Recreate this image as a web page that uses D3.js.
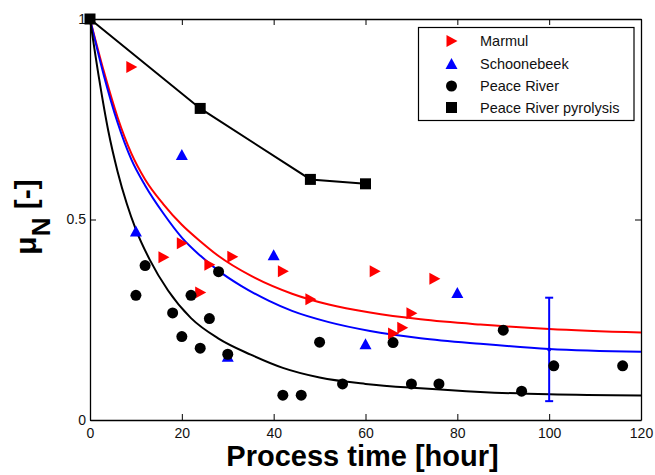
<!DOCTYPE html>
<html>
<head>
<meta charset="utf-8">
<script src="https://cdn.jsdelivr.net/npm/d3@7/dist/d3.min.js"></script>
<style>
  html, body { margin: 0; padding: 0; background: #fff; }
  svg { display: block; font-family: Arial, "Liberation Sans", sans-serif; }
</style>
</head>
<body>
<svg id="chart" width="655" height="475"></svg>
<script>
// Measured data: [time (h), mu_N]
const marmul = [[9, 0.88], [16, 0.406], [20, 0.441], [24, 0.318], [26, 0.387], [31, 0.407],
  [42, 0.371], [48, 0.301], [62, 0.371], [66, 0.216], [68, 0.230], [70, 0.266], [75, 0.352]];
const schoonebeek = [[10, 0.47], [20, 0.661], [30, 0.158], [40, 0.411], [60, 0.189], [80, 0.317]];
const peaceRiver = [[10, 0.311], [12, 0.385], [18, 0.267], [20, 0.208], [22, 0.311], [24, 0.179],
  [26, 0.253], [28, 0.370], [30, 0.164], [42, 0.062], [46, 0.062], [50, 0.194], [55, 0.090],
  [66, 0.193], [70, 0.090], [76, 0.090], [90, 0.224], [94, 0.072], [101, 0.135], [116, 0.135]];
const pyrolysis = [[0, 1], [24, 0.777], [48, 0.600], [60, 0.589]];

// Model curves
const modelMarmul = [[0, 1], [3, 0.87], [6, 0.755], [9, 0.665], [12, 0.6], [16, 0.538], [20, 0.487],
  [24, 0.446], [28, 0.409], [35, 0.36], [44, 0.315], [52, 0.288], [61, 0.268], [72, 0.251],
  [85, 0.238], [100, 0.227], [120, 0.218]];
const modelSchoonebeek = [[0, 1], [3, 0.86], [6, 0.742], [9, 0.65], [12, 0.585], [16, 0.515],
  [20, 0.455], [24, 0.41], [28, 0.372], [33, 0.334], [39, 0.297], [44, 0.272], [52, 0.244],
  [61, 0.222], [72, 0.204], [85, 0.19], [100, 0.177], [120, 0.17]];
const modelPeaceRiver = [[0, 1], [2, 0.85], [4, 0.72], [6, 0.62], [8, 0.54], [10, 0.475], [13, 0.4],
  [17, 0.323], [22, 0.254], [28, 0.203], [35, 0.163], [42, 0.13], [50, 0.106], [60, 0.09],
  [72, 0.079], [85, 0.07], [100, 0.064], [120, 0.061]];

// Error bar on the Schoonebeek model: [time, centre, low, high]
const errorBar = [100, 0.176, 0.047, 0.305];

const xTicks = [0, 20, 40, 60, 80, 100, 120];
const yTicks = [0, 0.5, 1];
const yTickLabels = ["0", "0.5", "1"];
const legendLabels = ["Marmul", "Schoonebeek", "Peace River", "Peace River pyrolysis"];

const RED = "#ff0000", BLUE = "#0000ff", BLACK = "#000000";

const svg = d3.select("#chart");
const margin = { left: 90, right: 14, top: 19, bottom: 55 };
const W = 655, H = 475;
const x = d3.scaleLinear().domain([0, 120]).range([margin.left, W - margin.right]);
const y = d3.scaleLinear().domain([0, 1]).range([H - margin.bottom, margin.top]);

// Axes (box with inward ticks)
const styleAxis = g => {
  g.selectAll("path.domain").attr("stroke", BLACK).attr("stroke-width", 1.3);
  g.selectAll(".tick line").attr("stroke", BLACK).attr("stroke-width", 1);
  g.selectAll(".tick text").attr("fill", "#111").attr("font-size", 14);
};
svg.append("g").attr("transform", `translate(0,${y(0)})`)
  .call(d3.axisBottom(x).tickValues(xTicks).tickFormat(d3.format("d")).tickSizeInner(-6).tickSizeOuter(0).tickPadding(8))
  .call(styleAxis);
svg.append("g").attr("transform", `translate(0,${y(1)})`)
  .call(d3.axisTop(x).tickValues(xTicks).tickFormat("").tickSizeInner(-6).tickSizeOuter(0))
  .call(styleAxis);
svg.append("g").attr("transform", `translate(${x(0)},0)`)
  .call(d3.axisLeft(y).tickValues(yTicks).tickFormat((d, i) => yTickLabels[i]).tickSizeInner(-6).tickSizeOuter(0).tickPadding(4))
  .call(styleAxis);
svg.append("g").attr("transform", `translate(${x(120)},0)`)
  .call(d3.axisRight(y).tickValues(yTicks).tickFormat("").tickSizeInner(-6).tickSizeOuter(0))
  .call(styleAxis);

// Model lines
const line = d3.line().x(d => x(d[0])).y(d => y(d[1])).curve(d3.curveMonotoneX);
[[modelMarmul, RED], [modelSchoonebeek, BLUE], [modelPeaceRiver, BLACK]].forEach(([data, c]) => {
  svg.append("path").datum(data).attr("d", line)
    .attr("fill", "none").attr("stroke", c).attr("stroke-width", 2);
});

// Pyrolysis line
svg.append("path").datum(pyrolysis).attr("d", d3.line().x(d => x(d[0])).y(d => y(d[1])))
  .attr("fill", "none").attr("stroke", BLACK).attr("stroke-width", 2);

// Error bar
const [ex, ec, elo, ehi] = errorBar;
const eb = svg.append("g").attr("stroke", BLUE).attr("stroke-width", 2);
eb.append("line").attr("x1", x(ex)).attr("x2", x(ex)).attr("y1", y(elo)).attr("y2", y(ehi));
eb.append("line").attr("x1", x(ex) - 4).attr("x2", x(ex) + 4).attr("y1", y(elo)).attr("y2", y(elo));
eb.append("line").attr("x1", x(ex) - 4).attr("x2", x(ex) + 4).attr("y1", y(ehi)).attr("y2", y(ehi));
svg.append("circle").attr("cx", x(ex)).attr("cy", y(ec)).attr("r", 2).attr("fill", BLUE);

// Marker shapes
const rightTri = "M-5,-6L6,0L-5,6Z";
const upTri = "M-6,5L0,-6L6,5Z";
const drawMarker = (g, kind, color) => {
  if (kind === "right") g.append("path").attr("d", rightTri).attr("fill", color);
  else if (kind === "up") g.append("path").attr("d", upTri).attr("fill", color);
  else if (kind === "circle") g.append("circle").attr("r", 5.5).attr("fill", color);
  else g.append("rect").attr("x", -5.5).attr("y", -5.5).attr("width", 11).attr("height", 11).attr("fill", color);
};
const series = [
  [marmul, "right", RED],
  [schoonebeek, "up", BLUE],
  [peaceRiver, "circle", BLACK],
  [pyrolysis, "square", BLACK]
];
series.forEach(([data, kind, color]) => {
  svg.append("g").selectAll("g").data(data).join("g")
    .attr("transform", d => `translate(${x(d[0])},${y(d[1])})`)
    .each(function () { drawMarker(d3.select(this), kind, color); });
});

// Legend
const lg = svg.append("g").attr("transform", "translate(418.5,27.5)");
lg.append("rect").attr("width", 215.5).attr("height", 93).attr("fill", "#fff")
  .attr("stroke", BLACK).attr("stroke-width", 1.2);
const rowY = [13.5, 36.5, 58.5, 80];
series.forEach(([, kind, color], i) => {
  const r = lg.append("g").attr("transform", `translate(33,${rowY[i]})`);
  drawMarker(r, kind, color);
  lg.append("text").attr("x", 61.5).attr("y", rowY[i]).attr("dy", "0.35em")
    .attr("font-size", 14.5).attr("fill", "#111").text(legendLabels[i]);
});

// Axis titles
svg.append("text").attr("x", 362.5).attr("y", 466).attr("text-anchor", "middle")
  .attr("font-size", 29).attr("font-weight", "bold").attr("fill", BLACK).text("Process time [hour]");
const yt = svg.append("text").attr("transform", "translate(36,217) rotate(-90)")
  .attr("text-anchor", "middle").attr("font-size", 30).attr("font-weight", "bold").attr("fill", BLACK);
yt.append("tspan").text("\u03bc");
yt.append("tspan").attr("dy", 14).attr("font-size", 26).text("N");
yt.append("tspan").attr("dy", -14).text(" [-]");
</script>
</body>
</html>
